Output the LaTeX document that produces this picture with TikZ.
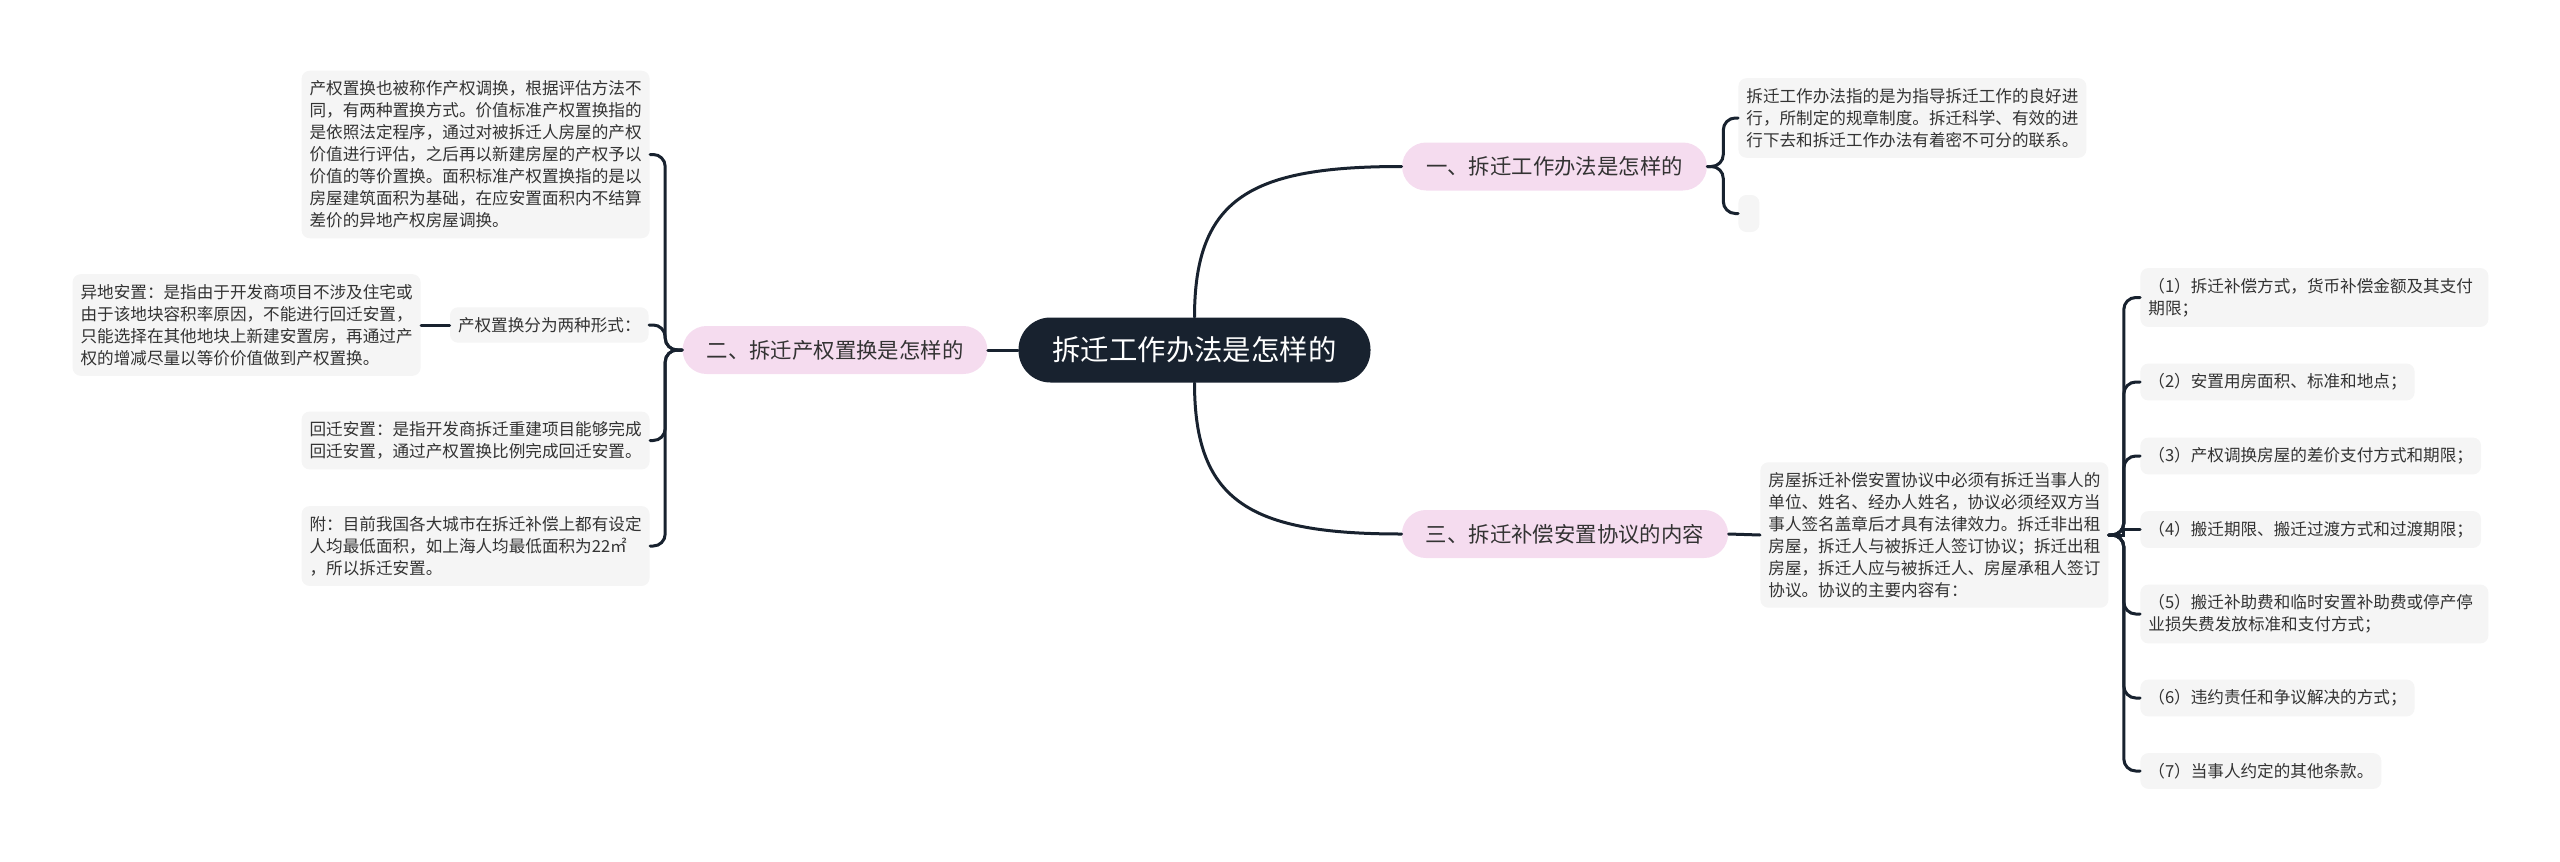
\documentclass[tikz,border=0pt]{standalone}
\usepackage{fontspec}
\setmainfont{Noto Sans CJK SC}
\usetikzlibrary{calc}
\definecolor{navy}{HTML}{18222F}
\definecolor{pinkbg}{HTML}{F5DCEF}
\definecolor{boxbg}{HTML}{F5F5F5}
\definecolor{txt}{HTML}{333333}
\begin{document}
\begin{tikzpicture}[x=0.5pt,y=-0.5pt,
  conn/.style={draw=navy, line width=1.5pt, line cap=round},
  bconn/.style={conn, rounded corners=6pt},
  centernode/.style={fill=navy, text=white, rounded corners=16pt, inner xsep=17pt, inner ysep=0pt, minimum height=32.5pt, font=\fontsize{14.2}{17}\selectfont},
  branch/.style={fill=pinkbg, text=txt, rounded corners=12pt, inner xsep=12pt, inner ysep=0pt, minimum height=24pt, font=\fontsize{10.7}{13}\selectfont},
  leaf/.style={fill=boxbg, text=txt, rounded corners=4pt, inner xsep=4pt, inner ysep=5pt, align=left, font=\fontsize{8.3}{11}\selectfont},
  wleaf/.style={leaf, text width=166pt}]
\useasboundingbox (0,0) rectangle (2560,862);

% center and branches
\node[centernode] (c) at (1194.5,350) {拆迁工作办法是怎样的};
\node[branch] (b1) at (1554.5,166.5) {一、拆迁工作办法是怎样的};
\node[branch] (b2) at (835,350) {二、拆迁产权置换是怎样的};
\node[branch] (b3) at (1565,534) {三、拆迁补偿安置协议的内容};

% branch 1 children
\node[wleaf, anchor=west] (c11) at (1738,118) {拆迁工作办法指的是为指导拆迁工作的良好进\\行，所制定的规章制度。拆迁科学、有效的进\\行下去和拆迁工作办法有着密不可分的联系。};
\node[leaf, anchor=west, minimum width=10.5pt, minimum height=18.5pt, inner xsep=0pt] (c12) at (1738,213.5) {};

% branch 2 children
\node[wleaf, anchor=east] (a) at (650,154.5) {产权置换也被称作产权调换，根据评估方法不\\同，有两种置换方式。价值标准产权置换指的\\是依照法定程序，通过对被拆迁人房屋的产权\\价值进行评估，之后再以新建房屋的产权予以\\价值的等价置换。面积标准产权置换指的是以\\房屋建筑面积为基础，在应安置面积内不结算\\差价的异地产权房屋调换。};
\node[leaf, anchor=east] (f2) at (649,325) {产权置换分为两种形式：};
\node[wleaf, anchor=east] (yd) at (421,325) {异地安置：是指由于开发商项目不涉及住宅或\\由于该地块容积率原因，不能进行回迁安置，\\只能选择在其他地块上新建安置房，再通过产\\权的增减尽量以等价价值做到产权置换。};
\node[wleaf, anchor=east] (hq) at (650,440.5) {回迁安置：是指开发商拆迁重建项目能够完成\\回迁安置，通过产权置换比例完成回迁安置。};
\node[wleaf, anchor=east] (fu) at (650,546) {附：目前我国各大城市在拆迁补偿上都有设定\\人均最低面积，如上海人均最低面积为22㎡\\，所以拆迁安置。};

% branch 3 children
\node[wleaf, anchor=west] (c3) at (1760,535) {房屋拆迁补偿安置协议中必须有拆迁当事人的\\单位、姓名、经办人姓名，协议必须经双方当\\事人签名盖章后才具有法律效力。拆迁非出租\\房屋，拆迁人与被拆迁人签订协议；拆迁出租\\房屋，拆迁人应与被拆迁人、房屋承租人签订\\协议。协议的主要内容有：};
\node[wleaf, anchor=west] (i1) at (2140,297.5) {（1）拆迁补偿方式，货币补偿金额及其支付\\期限；};
\node[leaf, anchor=west] (i2) at (2140,382) {（2）安置用房面积、标准和地点；};
\node[leaf, anchor=west] (i3) at (2140,456) {（3）产权调换房屋的差价支付方式和期限；};
\node[leaf, anchor=west] (i4) at (2140,529.5) {（4）搬迁期限、搬迁过渡方式和过渡期限；};
\node[wleaf, anchor=west] (i5) at (2140,614) {（5）搬迁补助费和临时安置补助费或停产停\\业损失费发放标准和支付方式；};
\node[leaf, anchor=west] (i6) at (2140,698) {（6）违约责任和争议解决的方式；};
\node[leaf, anchor=west] (i7) at (2140,771) {（7）当事人约定的其他条款。};

% connectors from center
\draw[conn] (c.west) -- (b2.east);
\draw[conn] (c.north) .. controls +(0,-120) and +(-150,0) .. (b1.west);
\draw[conn] (c.south) .. controls +(0,120) and +(-150,0) .. (b3.west);

% branch 1
\draw[bconn] (b1.east) -- ++(16,0) |- (c11.west);
\draw[bconn] (b1.east) -- ++(16,0) |- (c12.west);

% branch 2
\draw[bconn] (b2.west) -- ++(-17,0) |- (a.east);
\draw[bconn] (b2.west) -- ++(-17,0) |- (f2.east);
\draw[bconn] (b2.west) -- ++(-17,0) |- (hq.east);
\draw[bconn] (b2.west) -- ++(-17,0) |- (fu.east);
\draw[conn] (f2.west) -- (yd.east);

% branch 3
\draw[conn] (b3.east) -- (c3.west);
\draw[bconn] (c3.east) -- ++(15,0) |- (i1.west);
\draw[bconn] (c3.east) -- ++(15,0) |- (i2.west);
\draw[bconn] (c3.east) -- ++(15,0) |- (i3.west);
\draw[conn] (c3.east) -- ++(15,0) |- (i4.west);
\draw[bconn] (c3.east) -- ++(15,0) |- (i5.west);
\draw[bconn] (c3.east) -- ++(15,0) |- (i6.west);
\draw[bconn] (c3.east) -- ++(15,0) |- (i7.west);
\end{tikzpicture}
\end{document}
